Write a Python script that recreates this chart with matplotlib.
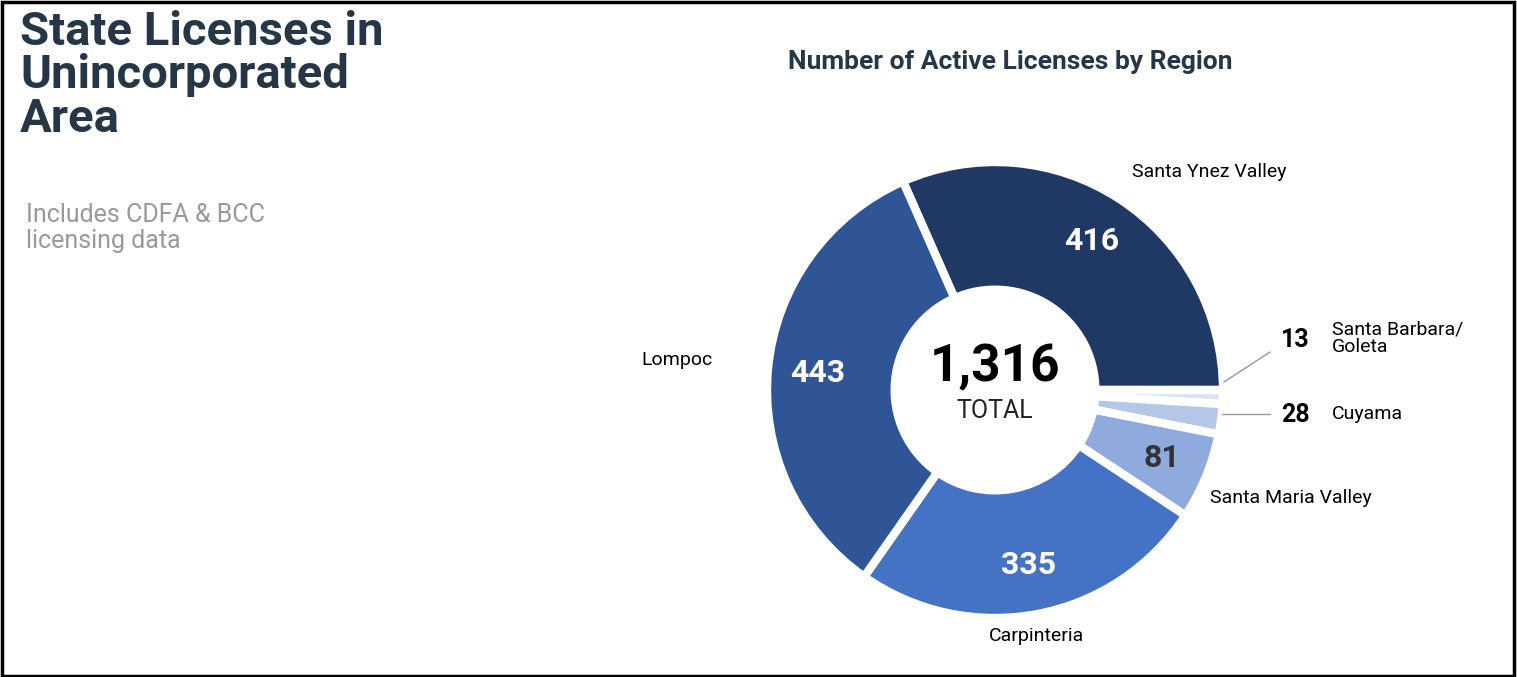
import matplotlib
matplotlib.use("Agg")
import matplotlib.pyplot as plt
import numpy as np
from matplotlib.patches import Rectangle

regions = ["Santa Ynez Valley", "Santa Barbara/\nGoleta", "Cuyama", "Santa Maria Valley", "Carpinteria", "Lompoc"]
values = [416, 13, 28, 81, 335, 443]
colors = ["#203864", "#dae3f3", "#b4c7e7", "#8faadc", "#4472c4", "#2f5597"]
total = sum(values)

W, H = 1517, 677
fig = plt.figure(figsize=(W/100, H/100), dpi=100)
plt.rcParams["font.family"] = "Roboto"
fig.add_artist(Rectangle((0.001, 0.002), 0.997, 0.995, transform=fig.transFigure,
                         fill=False, edgecolor="black", linewidth=2.5))

cx, cy, R = 995, 390, 228
ax = fig.add_axes([(cx-R)/W, (H-cy-R)/H, 2*R/W, 2*R/H])
start = values[0]/total*360
wedges, _ = ax.pie(values, colors=colors, startangle=start, counterclock=False,
                   radius=1, wedgeprops=dict(width=0.56, edgecolor="white", linewidth=6))
ax.set_xlim(-1, 1); ax.set_ylim(-1, 1); ax.set_aspect("equal"); ax.axis("off")

for w, v in zip(wedges, values):
    if v < 50:
        continue
    ang = np.deg2rad((w.theta1 + w.theta2) / 2)
    r = 0.78 if v > 100 else 0.79
    col = "white" if v > 100 else "#333333"
    ax.text(r*np.cos(ang), r*np.sin(ang), f"{v}", ha="center", va="center",
            fontsize=23, fontweight="bold", color=col, clip_on=False)

ax.text(0, 0.1, f"{total:,}", ha="center", va="center", fontsize=37, fontweight="bold", color="black")
ax.text(0, -0.09, "TOTAL", ha="center", va="center", fontsize=18, color="#222222")

def ftext(x, y, s, **kw):
    fig.text(x/W, 1-y/H, s, **kw)

ftext(1132, 172, regions[0], fontsize=14, va="center", ha="left")
ftext(641, 360, regions[5], fontsize=14, va="center", ha="left")
ftext(1037, 636, regions[4], fontsize=14, va="center", ha="center")
ftext(1210, 498, regions[3], fontsize=14, va="center", ha="left")
ftext(1332, 338, regions[1], fontsize=14, va="center", ha="left", linespacing=1.0)
ftext(1332, 414, regions[2], fontsize=14, va="center", ha="left")
ftext(1295, 340, f"{values[1]}", fontsize=18, fontweight="bold", va="center", ha="center")
ftext(1295, 415, f"{values[2]}", fontsize=18, fontweight="bold", va="center", ha="center")

for (x1, y1, x2, y2) in [(1224, 382, 1270, 352), (1222, 414, 1270, 414)]:
    fig.add_artist(plt.Line2D([x1/W, x2/W], [1-y1/H, 1-y2/H], color="#999999", lw=1))

ftext(20, 10, "State Licenses in\nUnincorporated\nArea", fontsize=34, fontweight="bold",
      color="#253746", va="top", ha="left", linespacing=0.98)
ftext(26, 228, "Includes CDFA & BCC\nlicensing data", fontsize=18, color="#999999",
      va="center", ha="left", linespacing=1.15)
ftext(1010, 62, "Number of Active Licenses by Region", fontsize=19, fontweight="bold",
      color="#253746", va="center", ha="center")

fig.savefig("out.png", dpi=100)
